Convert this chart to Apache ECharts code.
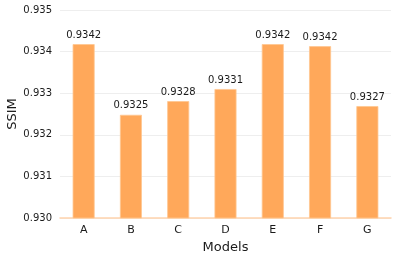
<!DOCTYPE html>
<html>
<head>
<meta charset="utf-8">
<script src="https://cdn.jsdelivr.net/npm/echarts@6/dist/echarts.min.js"></script>
<style>html,body{margin:0;padding:0;background:#fff;}#c{width:403px;height:261px;}</style>
</head>
<body>
<div id="c"></div>
<script>
const categories = ['A','B','C','D','E','F','G'];
const ssimValues = [0.93418, 0.93248, 0.93281, 0.93310, 0.93418, 0.93413, 0.93269];
const barLabels = ['0.9342','0.9325','0.9328','0.9331','0.9342','0.9342','0.9327'];
const yTicks = { min: 0.930, max: 0.935, interval: 0.001 };
const yName = 'SSIM';

const font = 'DejaVu Sans';
const chart = echarts.init(document.getElementById('c'), null, {renderer: 'canvas'});
chart.setOption({
  animation: false,
  backgroundColor: '#ffffff',
  textStyle: { fontFamily: font },
  grid: { left: 60, right: 12, top: 10, bottom: 43, containLabel: false, outerBoundsMode: 'none' },
  graphic: [{
    type: 'text',
    x: 13,
    y: 114,
    rotation: Math.PI / 2,
    style: { text: yName, font: '13px "DejaVu Sans"', fill: '#1a1a1a', align: 'center', verticalAlign: 'middle' }
  }],
  xAxis: {
    type: 'category',
    data: categories,
    name: 'Models',
    nameLocation: 'middle',
    nameGap: 23,
    nameTextStyle: { fontSize: 13, color: '#1a1a1a', fontFamily: font },
    axisLine: { show: true, lineStyle: { color: '#ffd3ad', width: 1.5 } },
    axisTick: { show: false },
    axisLabel: { fontSize: 11, color: '#1a1a1a', margin: 7, fontFamily: font },
    splitLine: { show: false }
  },
  yAxis: {
    type: 'value',
    min: yTicks.min,
    max: yTicks.max,
    interval: yTicks.interval,
    axisLine: { show: false },
    axisTick: { show: false },
    axisLabel: { fontSize: 10, color: '#1a1a1a', margin: 8, fontFamily: font,
      formatter: v => v.toFixed(3) },
    splitLine: { show: true, lineStyle: { color: '#eeeeee', width: 1 } }
  },
  series: [{
    type: 'bar',
    data: ssimValues,
    barWidth: 22,
    itemStyle: { color: '#ffa85a', borderColor: '#ffc690', borderWidth: 0.8 },
    label: {
      show: true,
      position: 'top',
      distance: 4,
      fontSize: 10,
      color: '#1a1a1a',
      fontFamily: font,
      formatter: p => barLabels[p.dataIndex]
    }
  }]
});
</script>
</body>
</html>
